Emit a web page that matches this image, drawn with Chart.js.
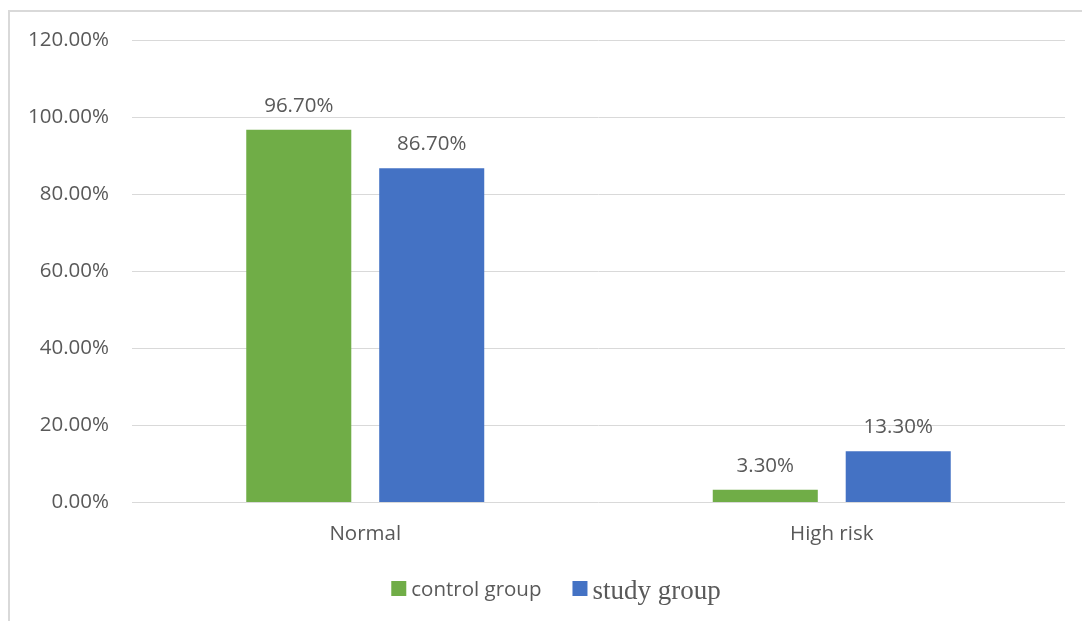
<!DOCTYPE html>
<html>
<head>
<meta charset="utf-8">
<script src="https://cdn.jsdelivr.net/npm/chart.js@4/dist/chart.umd.min.js"></script>
<style>
  html, body { margin: 0; padding: 0; background: #fff; }
  #wrap { position: relative; width: 1082px; height: 621px; overflow: hidden; }
  #frame { position: absolute; left: 8px; top: 10px; width: 1200px; height: 700px;
           border-top: 2px solid #d9d9d9; border-left: 2px solid #d9d9d9; pointer-events: none; }
</style>
</head>
<body>
<div id="wrap">
  <canvas id="chart" width="1082" height="621"></canvas>
  <div id="frame"></div>
</div>
<script>
// categories / series
const categories = ['Normal', 'High risk'];
const controlGroup = [96.7, 3.3];
const studyGroup = [86.7, 13.3];
const seriesNames = ['control group', 'study group'];
const yTicks = [0, 20, 40, 60, 80, 100, 120];

const textColor = '#595959';
const green = '#70AD47';
const blue = '#4472C4';

// value labels above each bar
const barLabels = {
    id: 'barLabels',
    afterDatasetsDraw(chart) {
        const ctx = chart.ctx;
        ctx.save();
        ctx.font = '20.5px "Open Sans"';
        ctx.fillStyle = textColor;
        ctx.textAlign = 'center';
        ctx.textBaseline = 'alphabetic';
        chart.data.datasets.forEach((ds, i) => {
            chart.getDatasetMeta(i).data.forEach((bar, j) => {
                ctx.fillText(ds.data[j].toFixed(2) + '%', bar.x, bar.y - 18);
            });
        });
        ctx.restore();
    }
};

// legend at the bottom (second label uses a serif font like the original)
const bottomLegend = {
    id: 'bottomLegend',
    afterDraw(chart) {
        const ctx = chart.ctx;
        const fonts = ['20.5px "Open Sans"', '27px "Liberation Serif"'];
        const baselines = [596, 599];
        const colors = [green, blue];
        const box = 15, gap = 5, itemGap = 31;
        ctx.save();
        const widths = seriesNames.map((n, i) => { ctx.font = fonts[i]; return ctx.measureText(n).width; });
        const total = widths.reduce((a, w) => a + box + gap + w, 0) + itemGap;
        let x = 556 - total / 2;
        seriesNames.forEach((n, i) => {
            ctx.fillStyle = colors[i];
            ctx.fillRect(x, 581, box, box);
            x += box + gap;
            ctx.font = fonts[i];
            ctx.fillStyle = textColor;
            ctx.textAlign = 'left';
            ctx.textBaseline = 'alphabetic';
            ctx.fillText(n, x, baselines[i]);
            x += widths[i] + itemGap;
        });
        ctx.restore();
    }
};

new Chart(document.getElementById('chart'), {
    type: 'bar',
    data: {
        labels: categories,
        datasets: [
            { label: seriesNames[0], data: controlGroup, backgroundColor: green },
            { label: seriesNames[1], data: studyGroup, backgroundColor: blue }
        ]
    },
    options: {
        responsive: false,
        animation: false,
        events: [],
        layout: { padding: { left: 0, right: 17, top: 40, bottom: 56 } },
        datasets: { bar: { categoryPercentage: 0.57, barPercentage: 0.79 } },
        plugins: {
            legend: { display: false },
            tooltip: { enabled: false }
        },
        scales: {
            x: {
                grid: { display: false, drawTicks: false },
                border: { display: false },
                ticks: { color: textColor, font: { family: 'Open Sans', size: 20.5 }, padding: 19 }
            },
            y: {
                min: 0,
                max: 120,
                afterFit: s => { s.width = 132; },
                afterBuildTicks: s => { s.ticks = yTicks.map(v => ({ value: v })); },
                grid: { color: '#d9d9d9', lineWidth: 1, drawTicks: false },
                border: { display: false },
                ticks: {
                    color: textColor,
                    font: { family: 'Open Sans', size: 20.5 },
                    padding: 23,
                    callback: v => v.toFixed(2) + '%'
                }
            }
        }
    },
    plugins: [barLabels, bottomLegend]
});
</script>
</body>
</html>
